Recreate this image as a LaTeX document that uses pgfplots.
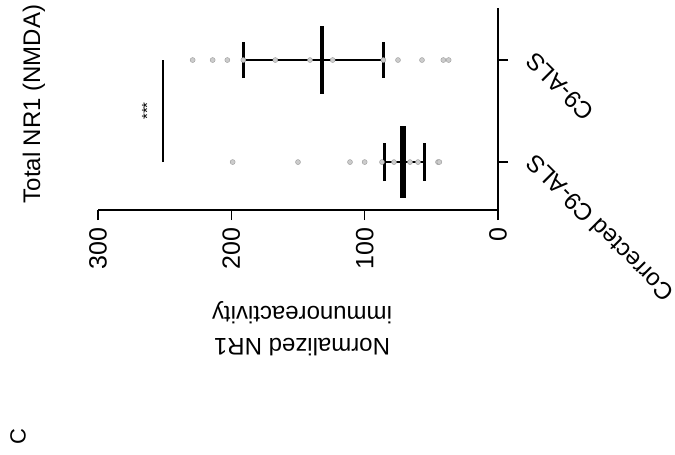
\documentclass[border=0pt]{standalone}
\usepackage{fontspec}
\setmainfont{Liberation Sans}
\usepackage{pgfplots}
\pgfplotsset{compat=1.18}
\begin{document}
\fontsize{22}{28}\selectfont
\begin{tikzpicture}[x=1pt,y=1pt]
\path[use as bounding box] (0,0) rectangle (675,-455);
\begin{axis}[
  at={(98pt,-210pt)}, anchor=south west,
  scale only axis, width=400pt, height=202pt,
  x dir=reverse, xmin=0, xmax=300,
  ymin=-0.47, ymax=1.51,
  axis x line=bottom, axis y line=right,
  axis line style={-, line width=1.8pt, black},
  xtick={0,100,200,300}, ytick={0,1},
  yticklabels={Corrected C9-ALS, C9-ALS},
  tick align=outside, major tick length=10pt,
  tick style={line width=1.6pt, black},
  xticklabel style={rotate=90, anchor=east, font=\fontsize{25}{25}\selectfont},
  yticklabel style={rotate=135, anchor=east, xshift=-6pt, yshift=-18pt, font=\fontsize{24}{24}\selectfont},
  /pgf/number format/assume math mode=true,
  clip=false,
]
% individual points
\addplot[only marks, mark=*, mark size=2.5pt, draw=gray!80, fill=gray!40] table {
x y
229 1
214 1
203 1
191 1
167 1
141 1
124 1
86 1
75 1
57 1
41 1
37 1
};
\addplot[only marks, mark=*, mark size=2.5pt, draw=gray!80, fill=gray!40] table {
x y
199 0
150 0
111 0
100 0
87 0
78 0
66 0
60 0
45 0
44 0
};
% mean and error bars
\addplot[only marks, mark=|, mark size=34pt, mark options={line width=3.5pt}, black,
  error bars/.cd, x dir=both, x explicit, error mark=|,
  error bar style={line width=2pt, black},
  error mark options={mark size=18pt, line width=3pt}]
  coordinates {(132,1) += (59,0) -= (46,0)};
\addplot[only marks, mark=|, mark size=36pt, mark options={line width=6pt}, black,
  error bars/.cd, x dir=both, x explicit, error mark=|,
  error bar style={line width=2pt, black},
  error mark options={mark size=19pt, line width=3pt}]
  coordinates {(71,0) += (14,0) -= (16,0)};
% significance
\addplot[black, line width=1.8pt] coordinates {(251,0) (251,1)};
\node[rotate=90, font=\fontsize{15}{15}\selectfont] at (axis cs:263,0.5) {***};
\end{axis}
\node[rotate=90, font=\fontsize{24}{24}\selectfont] at (34,-104) {Total NR1 (NMDA)};
\node[rotate=180, align=center, font=\fontsize{24}{32}\selectfont] at (302,-329) {Normalized NR1\\immunoreactivity};
\node[rotate=90, font=\fontsize{22}{22}\selectfont] at (18,-437) {C};
\end{tikzpicture}
\end{document}
